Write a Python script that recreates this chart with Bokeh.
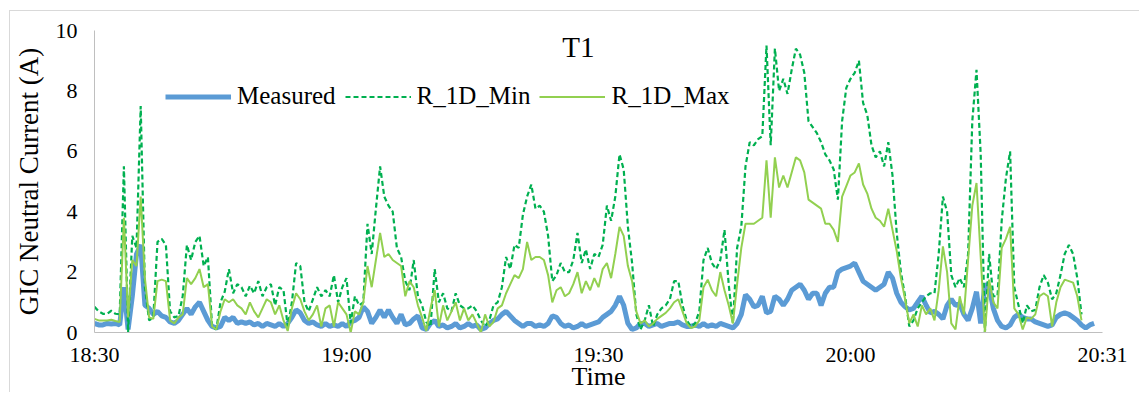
import numpy as np
from bokeh.plotting import figure
from bokeh.models import (Range1d, FixedTicker, Legend, LegendItem, Label,
                          ColumnDataSource)
from bokeh.embed import file_html
from bokeh.resources import INLINE

nan = float("nan")

# time axis: minutes after 18:30, sampled every half minute
minutes = [i * 0.5 for i in range(241)]

measured = [
    0.3, 0.25, 0.25, 0.3, 0.28, 0.3, 0.25, 1.5, 0.1, 1.2,
    2.6, 2.9, 0.9, 0.8, 0.6, 0.7, 0.55, 0.5, 0.35, 0.3,
    0.4, 0.6, 0.8, 0.6, 0.85, 1.0, 0.7, 0.4, 0.2, 0.15,
    0.2, 0.5, 0.4, 0.5, 0.3, 0.35, 0.3, 0.35, 0.25, 0.3,
    0.2, 0.3, 0.25, 0.2, 0.3, 0.2, 0.3, 0.5, 0.75, 0.65,
    0.4, 0.3, 0.35, 0.25, 0.2, 0.3, 0.2, 0.25, 0.2, 0.3,
    0.2, 0.35, 0.4, 0.5, 0.85, 0.7, 0.3, 0.5, 0.75, 0.5,
    0.75, 0.5, 0.3, 0.6, 0.25, 0.3, 0.45, 0.55, 0.15, 0.1,
    0.3, 0.4, 0.2, 0.25, 0.15, 0.2, 0.3, 0.15, 0.2, 0.3,
    0.2, 0.25, 0.1, 0.15, 0.3, 0.4, 0.45, 0.6, 0.7, 0.55,
    0.4, 0.3, 0.2, 0.3, 0.3, 0.2, 0.25, 0.2, 0.3, 0.55,
    0.5, 0.3, 0.2, 0.25, 0.15, 0.2, 0.3, 0.2, 0.25, 0.3,
    0.35, 0.5, 0.6, 0.7, 0.9, 1.2, 0.9, 0.3, 0.1, 0.15,
    0.3, 0.3, 0.2, 0.25, 0.3, 0.2, 0.25, 0.3, 0.3, 0.35,
    0.25, 0.2, 0.2, 0.25, 0.2, 0.3, 0.2, 0.25, 0.2, 0.3,
    0.25, 0.2, 0.15, 0.3, 0.6, 1.25, 1.1, 0.85, 0.9, 1.2,
    0.65, 0.7, 1.2, 1.1, 0.9, 1.1, 1.4, 1.5, 1.6, 1.4,
    1.1, 1.3, 1.3, 0.9, 1.3, 1.5, 1.5, 2.0, 2.1, 2.15,
    2.2, 2.3, 2.0, 1.7, 1.6, 1.5, 1.4, 1.5, 1.6, 2.0,
    1.8, 1.3, 1.0, 0.85, 0.75, 0.8, 1.0, 1.2, 0.9, 0.65,
    0.7, 0.6, 0.45, 0.9, 1.1, 0.9, 0.95, 0.6, 0.4, 0.8,
    1.35, 0.3, 1.6, 1.5, 0.8, 0.4, 0.2, 0.15, 0.25, 0.5,
    0.6, 0.5, 0.45, 0.45, 0.35, 0.3, 0.25, 0.2, 0.25, 0.5,
    0.6, 0.65, 0.6, 0.5, 0.4, 0.25, 0.15, 0.25, 0.3, nan,
    nan,
]

r1d_min = [
    0.85, 0.7, 0.62, 0.62, 0.72, 0.62, 0.6, 5.5, 0.0, 3.2,
    2.8, 7.5, 1.5, 0.4, 0.5, 3.0, 3.1, 2.9, 0.7, 0.5,
    0.55, 1.2, 2.9, 2.4, 3.0, 3.2, 2.2, 2.5, 0.2, 0.1,
    1.0, 1.35, 2.1, 1.3, 1.6, 1.5, 1.2, 1.55, 1.3, 1.7,
    1.2, 1.5, 1.6, 0.9, 1.5, 1.4, 0.2, 1.0, 2.3, 2.2,
    1.0, 0.7, 1.1, 1.5, 1.2, 1.4, 1.2, 1.9, 1.0, 1.5,
    1.8, 0.3, 1.2, 0.9, 1.0, 3.6, 2.6, 4.1, 5.5, 4.5,
    4.2, 4.0, 2.8, 2.5, 1.7, 1.4, 2.4, 1.2, 0.9, 0.35,
    0.2, 2.1, 1.0, 1.3, 0.8, 0.7, 1.3, 0.9, 0.8, 0.8,
    0.9, 0.7, 0.4, 0.2, 0.4, 0.9, 1.0, 1.5, 2.5, 2.1,
    2.9, 2.8, 3.9, 4.5, 4.9, 4.1, 4.2, 4.0, 3.2, 1.7,
    1.9, 2.3, 2.0, 2.0, 2.4, 3.3, 2.3, 2.75, 2.1, 2.6,
    2.5, 2.9, 4.2, 3.7, 4.5, 5.9, 5.4, 3.5, 2.3, 0.6,
    0.1, 0.4, 0.9, 0.2, 0.6, 0.8, 0.9, 1.1, 1.7, 1.7,
    0.9, 0.4, 0.2, 0.3, 0.7, 2.4, 2.8, 2.3, 2.1, 2.4,
    3.4, 1.6, 0.3, 2.8, 3.5, 5.5, 6.3, 6.2, 6.4, 6.5,
    9.5, 6.2, 9.4, 8.0, 8.4, 7.9, 8.7, 9.4, 9.2, 8.6,
    7.0, 6.8, 6.6, 6.3, 5.9, 5.7, 5.4, 4.4, 7.0, 8.1,
    8.4, 8.6, 9.0, 7.6, 7.2, 6.2, 5.8, 6.0, 5.5, 6.3,
    5.2, 3.3, 2.0, 1.2, 0.2, 0.4, 0.8, 1.0, 1.2, 1.3,
    1.3, 2.6, 4.5, 4.0, 1.9, 1.5, 1.8, 1.5, 2.6, 7.0,
    8.7, 5.9, 0.0, 2.6, 1.2, 1.2, 3.7, 5.1, 6.0, 1.5,
    0.9, 0.3, 0.9, 0.7, 0.75, 1.5, 1.9, 1.65, 1.1, 1.3,
    1.9, 2.6, 2.9, 2.6, 1.8, 0.6, nan, nan, nan, nan,
    nan,
]

r1d_max = [
    0.45, 0.4, 0.4, 0.4, 0.42, 0.38, 0.35, 3.8, 0.5, 2.4,
    2.2, 4.5, 1.8, 0.5, 0.45, 1.7, 1.75, 1.7, 0.4, 0.3,
    0.5, 0.6, 1.8, 1.6, 1.8, 2.1, 1.5, 1.6, 0.2, 0.1,
    0.7, 1.1, 1.0, 1.1, 0.9, 0.8, 0.6, 1.0, 0.7, 0.5,
    0.8, 1.1, 1.0, 0.6, 0.9, 0.4, 0.05, 0.8, 1.3, 1.1,
    0.7, 0.4, 0.6, 0.9, 0.2, 0.8, 0.9, 0.2, 1.0, 0.8,
    0.6, 0.0, 0.7, 0.6, 1.0, 2.2, 1.5, 2.4, 3.3, 2.5,
    2.6, 2.4, 2.3, 2.2, 1.2, 1.7, 1.5, 0.9, 0.5, 0.05,
    0.8, 1.4, 0.2, 0.9, 0.4, 0.7, 1.0, 0.4, 0.8, 0.4,
    0.6, 0.3, 0.0, 0.6, 0.2, 0.35, 0.8, 0.9, 1.3, 1.6,
    1.9, 1.8, 2.1, 3.0, 2.4, 2.5, 2.5, 2.4, 1.9, 1.0,
    1.4, 1.5, 1.2, 1.3, 1.6, 2.0, 1.3, 1.7, 1.4, 1.8,
    1.5, 2.1, 2.3, 1.8, 2.6, 3.5, 3.2, 2.2, 1.7, 0.7,
    0.3, 0.4, 0.2, 0.3, 0.45, 0.55, 0.65, 0.8, 1.0, 1.1,
    0.7, 0.3, 0.15, 0.2, 0.4, 1.5, 1.75, 1.4, 1.2, 2.0,
    1.4, 0.9, 0.3, 1.6, 2.8, 3.6, 3.6, 3.6, 3.7, 3.8,
    5.7, 3.8, 5.8, 4.8, 5.2, 4.8, 5.3, 5.8, 5.7, 5.3,
    4.4, 4.3, 4.2, 4.1, 3.6, 3.6, 3.4, 3.0, 4.5, 4.85,
    5.2, 5.3, 5.6, 4.9, 4.6, 4.1, 3.8, 3.7, 3.5, 4.1,
    3.4, 2.7, 1.8, 1.1, 0.3, 0.6, 0.2, 0.9, 0.6, 0.8,
    0.4, 1.4, 2.85, 2.0, 0.3, 0.1, 1.2, 0.6, 2.4, 4.2,
    4.95, 2.5, 0.0, 1.75, 1.0, 0.8, 2.8, 3.1, 3.5, 0.8,
    0.6, 0.1, 0.5, 0.45, 0.6, 1.2, 1.3, 1.2, 0.2, 1.0,
    1.5, 1.75, 1.7, 1.65, 1.2, 0.4, nan, nan, nan, nan,
    nan,
]

x_tick_pos = [0, 30, 60, 90, 120]
x_tick_labels = ["18:30", "19:00", "19:30", "20:00", "20:31"]
y_ticks = [0, 2, 4, 6, 8, 10]

src = ColumnDataSource(dict(
    t=np.array(minutes, dtype=float),
    meas=np.array(measured, dtype=float),
    rmin=np.array(r1d_min, dtype=float),
    rmax=np.array(r1d_max, dtype=float),
))

FONT = "Liberation Serif"

# the figure sits inside a light grey frame whose top-left corner is visible
p = figure(width=1130, height=382, output_backend="svg", toolbar_location=None,
           x_range=Range1d(0, 120), y_range=Range1d(0, 10),
           min_border_left=82, min_border_right=38, min_border_top=19,
           min_border_bottom=60,
           styles={"margin-left": "9px", "margin-top": "10px",
                   "border-left": "1px solid #D9D9D9",
                   "border-top": "1px solid #D9D9D9"})

r_meas = p.line("t", "meas", source=src, color="#5B9BD5", line_width=5)
r_min = p.line("t", "rmin", source=src, color="#00B050", line_width=2.2, line_dash="5 3")
r_max = p.line("t", "rmax", source=src, color="#92D050", line_width=2)

p.xaxis.ticker = FixedTicker(ticks=x_tick_pos)
p.xaxis.major_label_overrides = {k: v for k, v in zip(x_tick_pos, x_tick_labels)}
p.yaxis.ticker = FixedTicker(ticks=y_ticks)

p.xaxis.axis_label = "Time"
p.yaxis.axis_label = "GIC Neutral Current (A)"

for ax in (p.xaxis[0], p.yaxis[0]):
    ax.axis_line_color = "#BFBFBF"
    ax.axis_line_width = 1
    ax.major_tick_line_color = None
    ax.minor_tick_line_color = None
    ax.major_tick_out = 0
    ax.major_tick_in = 0
    ax.major_label_text_font = FONT
    ax.major_label_text_font_size = "22px"
    ax.major_label_text_color = "black"
    ax.axis_label_text_font = FONT
    ax.axis_label_text_font_style = "normal"
    ax.axis_label_text_color = "black"

p.xaxis.axis_label_text_font_size = "26px"
p.yaxis.axis_label_text_font_size = "27px"
p.xaxis.major_label_standoff = 9
p.xaxis.axis_label_standoff = -8
p.yaxis.major_label_standoff = 17
p.yaxis.axis_label_standoff = 9

p.xgrid.visible = False
p.ygrid.visible = False
p.outline_line_color = None

legend = Legend(items=[LegendItem(label="Measured", renderers=[r_meas]),
                       LegendItem(label="R_1D_Min", renderers=[r_min]),
                       LegendItem(label="R_1D_Max", renderers=[r_max])],
                orientation="horizontal", location=(71, 222),
                glyph_width=66, glyph_height=25, label_height=25,
                label_standoff=6, spacing=9, padding=0, margin=0,
                border_line_color=None, background_fill_alpha=0,
                label_text_font=FONT, label_text_font_size="25px",
                label_text_color="black")
p.add_layout(legend)

title = Label(x=57.6, y=9.45, text="T1", text_align="center", text_baseline="middle",
              text_font=FONT, text_font_size="29px", text_color="black")
p.add_layout(title)

open("out.html", "w").write(file_html(p, INLINE))
